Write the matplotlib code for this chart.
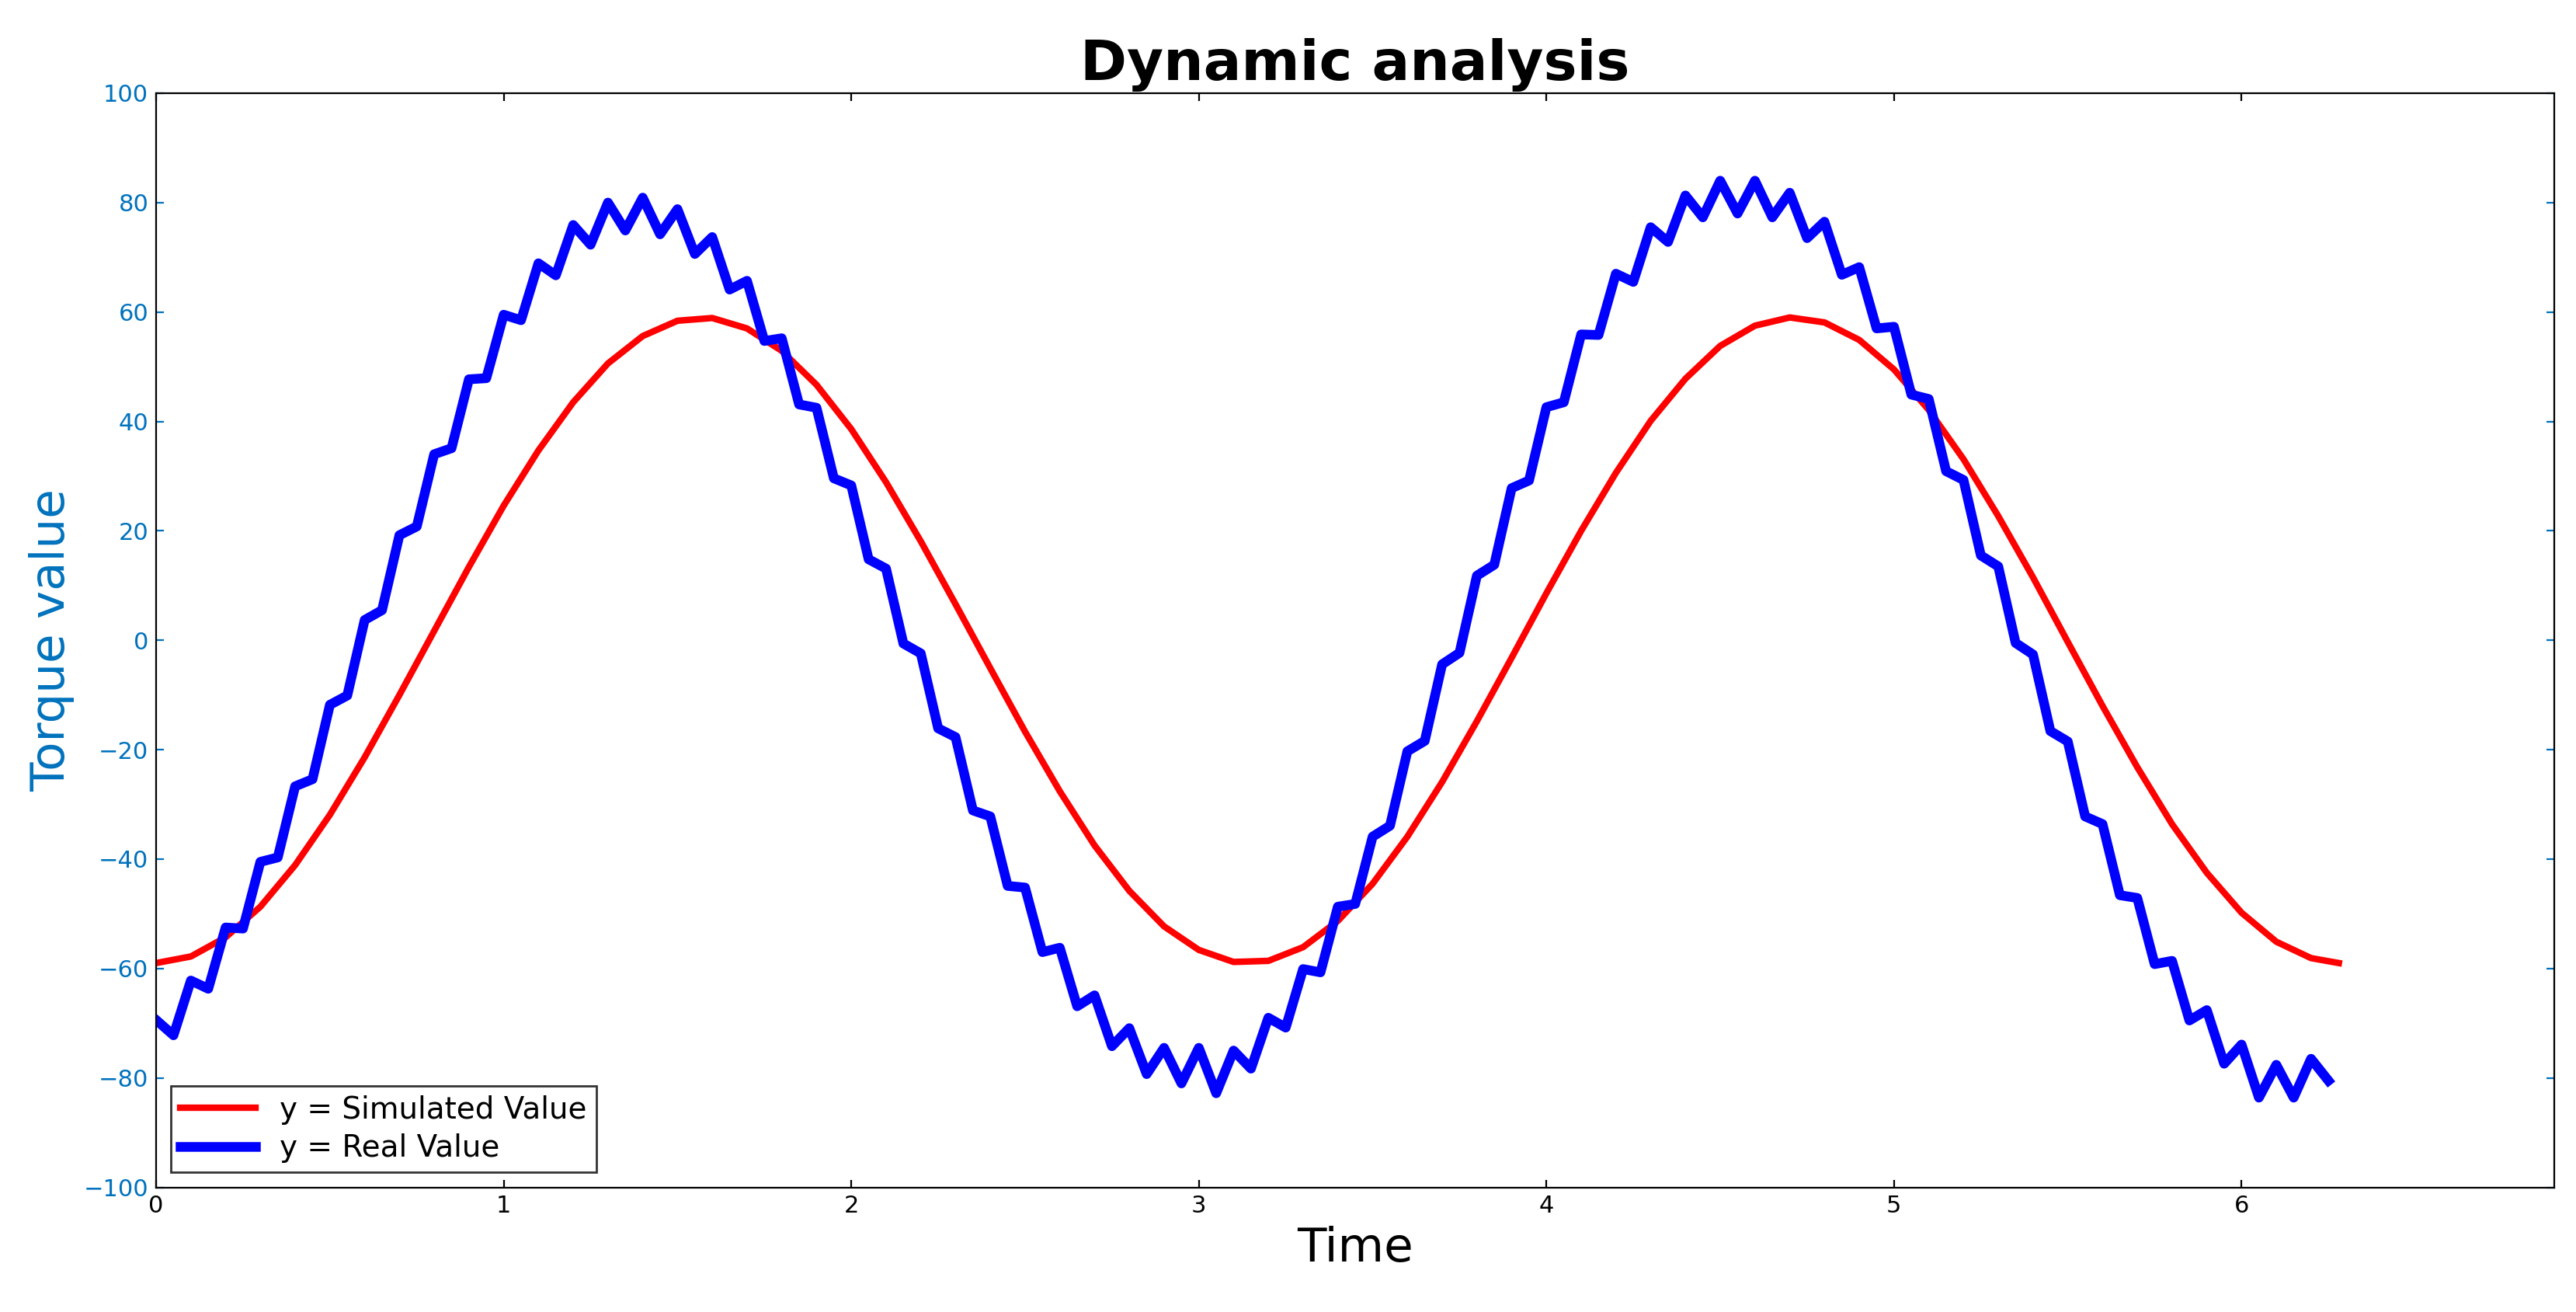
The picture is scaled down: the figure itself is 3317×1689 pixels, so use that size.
import numpy as np
import matplotlib
matplotlib.use('Agg')
import matplotlib.pyplot as plt

# simulated torque, sampled every 0.1 s (last point at 6.28)
sim_t = [round(0.1 * i, 1) for i in range(63)] + [6.28]
sim_y = [-59.0, -57.8, -54.3, -48.7, -41.1, -31.9, -21.4, -10.0, 1.7, 13.4,
         24.6, 34.7, 43.5, 50.6, 55.6, 58.4, 58.9, 57.0, 52.9, 46.7,
         38.6, 28.9, 18.1, 6.6, -5.1, -16.7, -27.6, -37.5, -45.8, -52.3,
         -56.6, -58.8, -58.6, -56.1, -51.3, -44.5, -35.9, -25.9, -14.8, -3.2,
         8.6, 20.0, 30.6, 40.1, 47.8, 53.8, 57.5, 59.0, 58.1, 54.9,
         49.5, 42.1, 33.1, 22.7, 11.5, -0.3, -12.0, -23.2, -33.6, -42.5,
         -49.8, -55.1, -58.1, -59.0]

# measured torque, sampled every 0.05 s (ripple included)
real_t = [round(0.05 * i, 2) for i in range(126)]
real_y = [-69.4, -72.2, -62.2, -63.7, -52.5, -52.7, -40.5, -39.7,
          -26.7, -25.4, -11.8, -10.1, 3.7, 5.5, 19.2, 20.8, 34.0, 35.1,
          47.7, 47.9, 59.5, 58.5, 68.9, 66.7, 75.9, 72.3, 80.0, 74.9,
          80.9, 74.2, 78.8, 70.6, 73.7, 64.1, 65.7, 54.7, 55.2, 43.1,
          42.5, 29.6, 28.3, 14.8, 13.1, -0.6, -2.4, -16.1, -17.7, -31.1,
          -32.2, -44.9, -45.2, -57.0, -56.2, -66.9, -64.9, -74.2, -70.9, -79.3,
          -74.5, -81.0, -74.5, -82.8, -75.0, -78.3, -69.0, -70.8, -60.1, -60.7,
          -48.7, -48.2, -35.9, -33.9, -20.3, -18.4, -4.4, -2.3, 11.8, 13.8,
          27.8, 29.2, 42.6, 43.5, 55.9, 55.8, 67.0, 65.5, 75.5, 72.8,
          81.3, 77.3, 84.0, 78.0, 84.0, 77.3, 81.8, 73.5, 76.5, 66.8,
          68.2, 57.0, 57.3, 44.9, 44.1, 30.9, 29.3, 15.5, 13.5, -0.5,
          -2.6, -16.6, -18.5, -32.2, -33.6, -46.6, -47.1, -59.2, -58.6, -69.5,
          -67.6, -77.4, -73.9, -83.6, -77.6, -83.6, -76.5, -80.5]

fig = plt.figure(figsize=(16.585, 8.445), dpi=200)
ax = fig.add_axes([0.0606, 0.095, 0.931, 0.834])

ax.plot(sim_t, sim_y, color='#ff0000', lw=3, label='y = Simulated Value')
ax.plot(real_t, real_y, color='#0000ff', lw=4.5, label='y = Real Value')

ax.set_xlim(0, 6.9)
ax.set_ylim(-100, 100)
ax.set_xticks(range(0, 7))
ax.set_yticks(range(-100, 101, 20))
ax.tick_params(axis='y', colors='#0072BD', labelsize=11, direction='in')
ax.tick_params(axis='x', labelsize=11, direction='in')
ax.tick_params(top=True, right=True)

ax.set_title('Dynamic analysis', fontsize=26, fontweight='bold')
ax.set_xlabel('Time', fontsize=22)
ax.set_ylabel('Torque value', fontsize=22, color='#0072BD')

ax.legend(loc='lower left', fontsize=14, frameon=True, fancybox=False,
          edgecolor='black', handlelength=2.5, borderpad=0.3, labelspacing=0.3)

plt.savefig('out.png')
